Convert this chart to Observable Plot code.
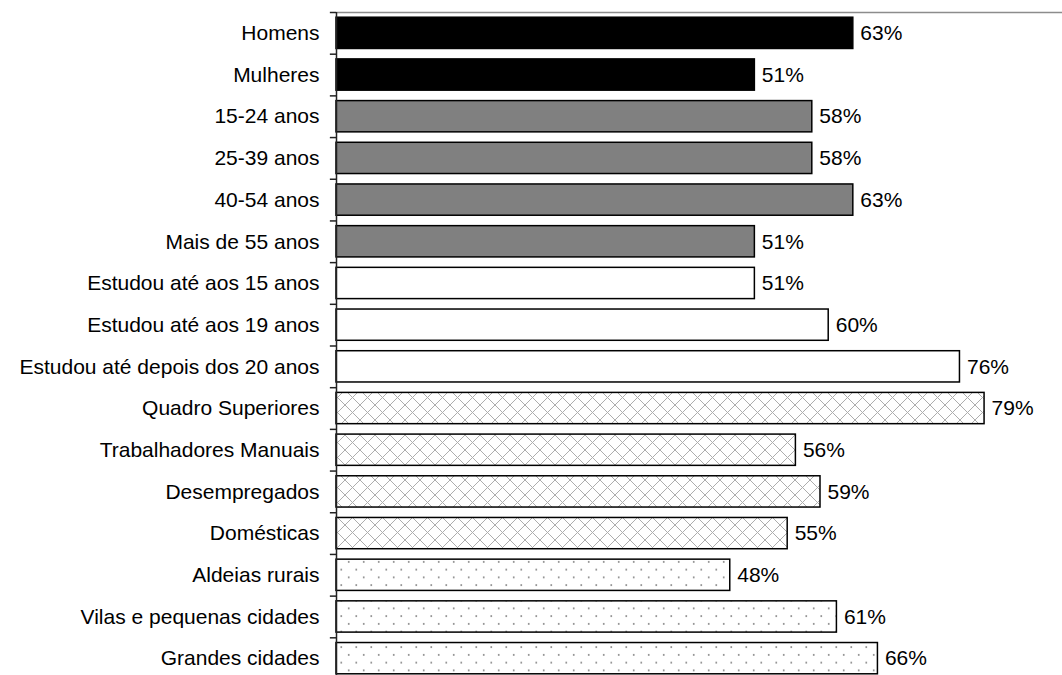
<!DOCTYPE html>
<html>
<head>
<meta charset="utf-8">
<script src="https://cdn.jsdelivr.net/npm/d3@7"></script>
<script src="https://cdn.jsdelivr.net/npm/@observablehq/plot@0.6"></script>
<style>
  html, body { margin: 0; padding: 0; background: #fff; overflow: hidden; }
  #chart svg { display: block; }
</style>
</head>
<body>
<div id="chart"></div>
<script>
// ---- data ----
const categories = [
  "Homens", "Mulheres",
  "15-24 anos", "25-39 anos", "40-54 anos", "Mais de 55 anos",
  "Estudou até aos 15 anos", "Estudou até aos 19 anos", "Estudou até depois dos 20 anos",
  "Quadro Superiores", "Trabalhadores Manuais", "Desempregados", "Domésticas",
  "Aldeias rurais", "Vilas e pequenas cidades", "Grandes cidades"
];
const values = [63, 51, 58, 58, 63, 51, 51, 60, 76, 79, 56, 59, 55, 48, 61, 66];
const groups = [
  "sexo", "sexo",
  "idade", "idade", "idade", "idade",
  "educacao", "educacao", "educacao",
  "profissao", "profissao", "profissao", "profissao",
  "habitat", "habitat", "habitat"
];

// ---- styles ----
const groupFill = {
  sexo: "black",
  idade: "#808080",
  educacao: "white",
  profissao: "url(#crosshatch)",
  habitat: "url(#dots)"
};
const FONT = "Arial, 'Liberation Sans', sans-serif";
const FS = 21;
const H = 679, TOP = 12;

const data = categories.map((c, i) => ({category: c, value: values[i], group: groups[i]}));
const step = (H - TOP) / categories.length;

const chart = Plot.plot({
  width: 1062,
  height: H,
  marginTop: TOP,
  marginBottom: 0,
  marginLeft: 336,
  marginRight: 0,
  style: {fontFamily: FONT, fontSize: FS + "px", color: "black", background: "white"},
  x: {domain: [0, 88.5], axis: null},
  y: {domain: categories, paddingInner: 0.25, paddingOuter: 0.125, round: false, axis: null, label: null},
  color: {type: "identity"},
  marks: [
    Plot.axisY({tickSize: 0, tickPadding: 17, fontSize: FS, fill: "black", label: null}),
    // top frame line
    Plot.ruleY([categories[0]], {x1: 0, x2: 88.5, dy: -step / 2, stroke: "#8c8c8c", strokeWidth: 1.5}),
    Plot.barX(data, {
      y: "category",
      x: "value",
      fill: d => groupFill[d.group],
      stroke: "black",
      strokeWidth: 1.5
    }),
    // category boundary tick marks
    Plot.ruleY(categories, {y: d => d, x1: -0.75, x2: 0, dy: -step / 2, stroke: "#222", strokeWidth: 1.5}),
    Plot.ruleX([0], {stroke: "#222", strokeWidth: 1.5}),
    Plot.text(data, {
      y: "category",
      x: "value",
      text: d => `${d.value}%`,
      textAnchor: "start",
      dx: 7,
      fontSize: FS,
      fill: "black"
    })
  ]
});

const svg = d3.select(chart);
const defs = svg.insert("defs", ":first-child");
const ch = defs.append("pattern")
  .attr("id", "crosshatch").attr("patternUnits", "userSpaceOnUse")
  .attr("width", 15).attr("height", 15);
ch.append("rect").attr("width", 15).attr("height", 15).attr("fill", "white");
ch.append("path").attr("d", "M0,0L15,15M15,0L0,15M-1,14L1,16M14,-1L16,1")
  .attr("stroke", "#adadad").attr("stroke-width", 1).attr("fill", "none");
const dt = defs.append("pattern")
  .attr("id", "dots").attr("patternUnits", "userSpaceOnUse")
  .attr("width", 15).attr("height", 15.5);
dt.append("rect").attr("width", 15).attr("height", 15.5).attr("fill", "white");
dt.append("circle").attr("cx", 3.75).attr("cy", 3.9).attr("r", 1).attr("fill", "#8a8a8a");
dt.append("circle").attr("cx", 11.25).attr("cy", 11.65).attr("r", 1).attr("fill", "#8a8a8a");

document.getElementById("chart").appendChild(chart);
</script>
</body>
</html>
